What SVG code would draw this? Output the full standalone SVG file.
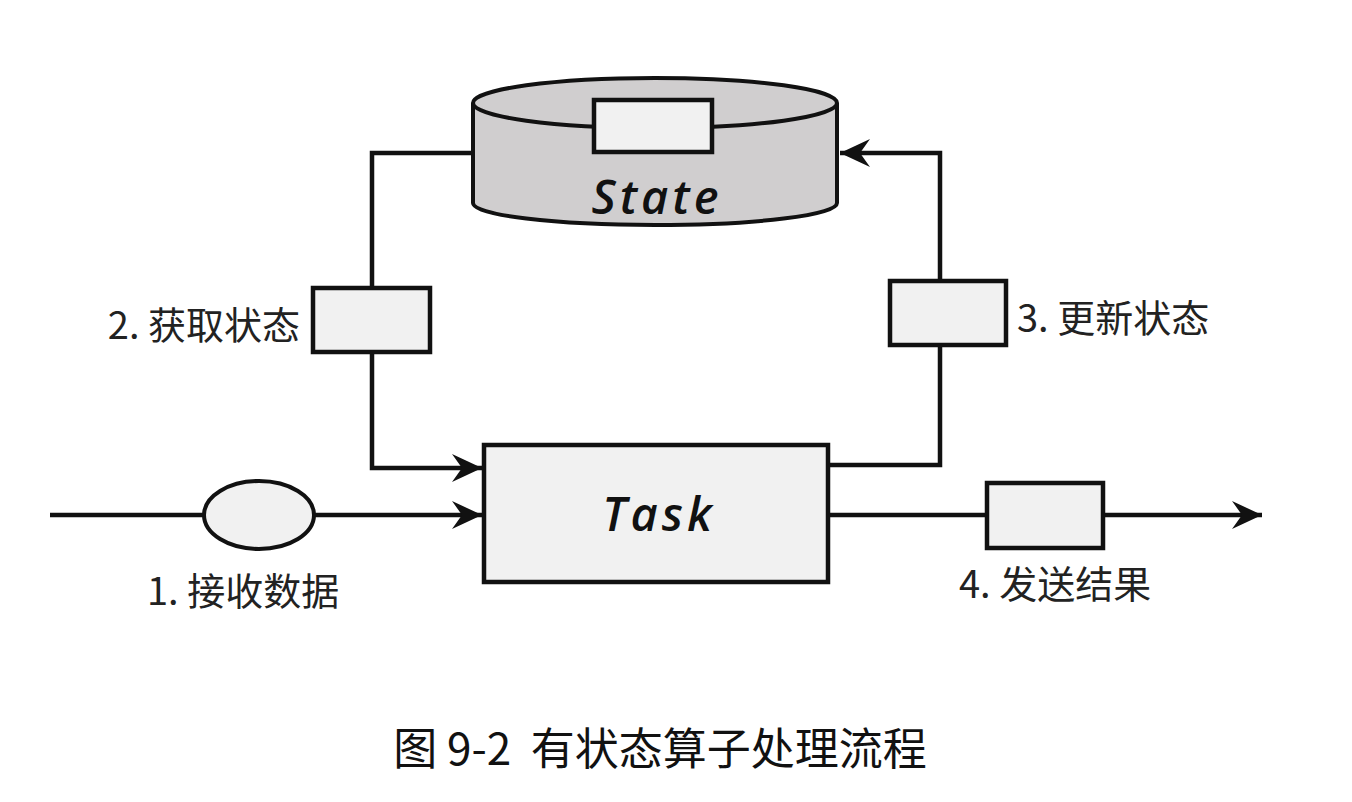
<svg xmlns="http://www.w3.org/2000/svg" width="1352" height="802" viewBox="0 0 1352 802">
<style>
.ln{fill:none;stroke:#111;stroke-width:4.5}
.box{fill:#f1f1f1;stroke:#111;stroke-width:4.5}
.lbl{font-family:"Noto Sans CJK SC","Noto Sans",sans-serif;font-size:38px;fill:#222}
.bi{font-family:"Open Sans","DejaVu Sans",sans-serif;font-weight:600;font-style:italic;font-size:47px;letter-spacing:4px;fill:#111}
</style>
<defs>
<marker id="arr" markerUnits="userSpaceOnUse" viewBox="-32 -16 34 32" markerWidth="34" markerHeight="32" refX="0" refY="0" orient="auto">
<path d="M-30,-14 L0,0 L-30,14 L-20,0 Z" fill="#111"/>
</marker>
</defs>
<rect width="1352" height="802" fill="#fff"/>
<g id="connectors">
<path class="ln" d="M473,153 H372 V468 H482" marker-end="url(#arr)"/>
<path class="ln" d="M50,515 H482" marker-end="url(#arr)"/>
<path class="ln" d="M828,465 H940 V153 H840" marker-end="url(#arr)"/>
<path class="ln" d="M828,515 H1262" marker-end="url(#arr)"/>
</g>
<g id="state">
<path d="M473,103 V203 A182,22 0 0 0 837,203 V103" fill="#d0cecf" stroke="#111" stroke-width="4"/>
<ellipse cx="655" cy="103" rx="182" ry="25" fill="#d0cecf" stroke="#111" stroke-width="4"/>
<rect class="box" x="594" y="100" width="118" height="52"/>
<text class="bi" x="657" y="214" text-anchor="middle">State</text>
</g>
<g id="task">
<rect class="box" x="484" y="445" width="344" height="137"/>
<text class="bi" x="659" y="531" text-anchor="middle">Task</text>
</g>
<g id="msg-in">
<ellipse cx="259" cy="515" rx="55" ry="34" fill="#f1f1f1" stroke="#111" stroke-width="4"/>
<text class="lbl" x="147" y="605">1. 接收数据</text>
</g>
<g id="msg-get">
<rect class="box" x="313" y="288" width="117" height="64"/>
<text class="lbl" x="300" y="339" text-anchor="end">2. 获取状态</text>
</g>
<g id="msg-update">
<rect class="box" x="890" y="281" width="116" height="64"/>
<text class="lbl" x="1017" y="332">3. 更新状态</text>
</g>
<g id="msg-out">
<rect class="box" x="987" y="483" width="116" height="65"/>
<text class="lbl" x="959" y="598">4. 发送结果</text>
</g>
<text x="660" y="765" text-anchor="middle" font-family="Noto Sans CJK SC,Noto Sans,sans-serif" font-size="44" fill="#111">图 9-2&#160;&#160;有状态算子处理流程</text>
</svg>
